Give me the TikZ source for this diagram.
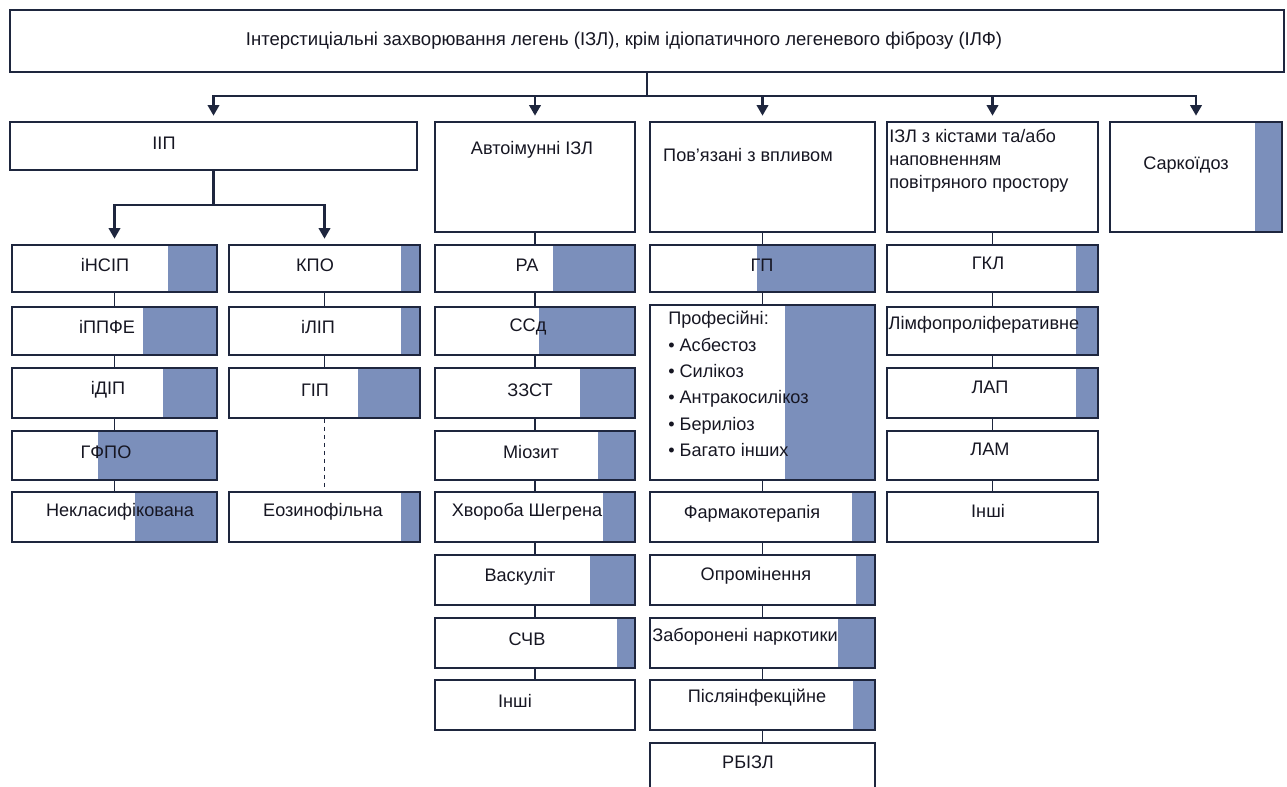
\documentclass[tikz,border=0pt]{standalone}
\usepackage{fontspec}
\setmainfont{Liberation Sans}
\usetikzlibrary{arrows.meta,fit}
\definecolor{barblue}{RGB}{123,143,187}
\definecolor{lineblue}{RGB}{30,38,62}
\definecolor{txt}{RGB}{22,22,34}
\tikzset{
  frame/.style={draw=lineblue,line width=1.4pt,inner sep=0pt},
  lbl/.style={text=txt,font=\fontsize{13.6}{16}\selectfont,inner sep=0pt},
  conn/.style={draw=lineblue,line width=2.2pt},
  arr/.style={conn,-{Triangle[width=8.5pt,length=8pt]},shorten >=4pt},
  thin/.style={draw=lineblue,line width=1pt},
}
\newcommand\Bx[9]{%
  \fill[white] (#2,#3) rectangle (#4,#5);
  \fill[barblue] (#6,#3) rectangle (#4,#5);
  \node[frame,fit={(#2,#3)(#4,#5)}] (#1) {};
  \node[lbl] (#1-t) at (#7,#8) {#9};
}
\begin{document}
\begin{tikzpicture}[x=0.75pt,y=-0.75pt]
\useasboundingbox (0,0) rectangle (1287,787);
\clip (0,0) rectangle (1287,787);
\fill[white] (0,0) rectangle (1287,787);
% top
\Bx{top}{10}{10}{1284}{72}{1284}{624}{41}{\fontsize{13.9}{16}\selectfont Інтерстиціальні захворювання легень (ІЗЛ), крім ідіопатичного легеневого фіброзу (ІЛФ)}
% row 1
\Bx{iip}{10}{122}{417}{170}{417}{164}{143}{ІІП}
\Bx{auto}{435}{122}{635}{232}{635}{532}{150}{Автоімунні ІЗЛ}
\Bx{pov}{650}{122}{875}{232}{875}{748}{155}{Пов’язані з впливом}
\fill[white] (887,122) rectangle (1098,232);
\node[frame,fit={(887,122)(1098,232)}] (kist) {};
\node[lbl,anchor=north west,align=left,font=\fontsize{13.6}{17.3}\selectfont] (kist-t) at (889,129) {ІЗЛ з кістами та/або\\наповненням\\повітряного простору};
\Bx{sark}{1110}{122}{1282}{232}{1255}{1186}{165}{Саркоїдоз}
% column 1
\Bx{insip}{12}{245}{217}{292}{168}{105}{265}{іНСІП}
\Bx{ippfe}{12}{307}{217}{355}{143}{107}{327}{іППФЕ}
\Bx{idip}{12}{368}{217}{418}{163}{108}{390}{іДІП}
\Bx{gfpo}{12}{431}{217}{480}{98}{106}{452}{ГФПО}
\Bx{nekl}{12}{492}{217}{542}{135}{120}{512}{Некласифікована}
% column 2
\Bx{kpo}{229}{245}{420}{292}{401}{315}{265}{КПО}
\Bx{ilip}{229}{307}{420}{355}{401}{318}{327}{іЛІП}
\Bx{gip}{229}{368}{420}{418}{358}{315}{390}{ГІП}
\Bx{eoz}{229}{492}{420}{542}{401}{323}{512}{Еозинофільна}
% column 3
\Bx{ra}{435}{245}{635}{292}{553}{527}{265}{РА}
\Bx{ssd}{435}{307}{635}{355}{539}{528}{327}{ССд}
\Bx{zzst}{435}{368}{635}{418}{580}{530}{390}{ЗЗСТ}
\Bx{mioz}{435}{431}{635}{480}{598}{531}{452}{Міозит}
\Bx{sheg}{435}{492}{635}{542}{603}{527}{512}{Хвороба Шегрена}
\Bx{vask}{435}{555}{635}{605}{590}{520}{577}{Васкуліт}
\Bx{schv}{435}{618}{635}{668}{617}{527}{639}{СЧВ}
\Bx{insh3}{435}{680}{635}{730}{635}{515}{701}{Інші}
% column 4
\Bx{gp}{650}{245}{875}{292}{757}{762}{265}{ГП}
\fill[white] (650,305) rectangle (875,480);
\fill[barblue] (785,305) rectangle (875,480);
\node[frame,fit={(650,305)(875,480)}] (prof) {};
\node[lbl,anchor=north west,align=left,font=\fontsize{13.6}{19.8}\selectfont] (prof-t) at (668,311) {Професійні:\\• Асбестоз\\• Силікоз\\• Антракосилікоз\\• Бериліоз\\• Багато інших};
\Bx{farm}{650}{492}{875}{542}{852}{752}{514}{Фармакотерапія}
\Bx{oprom}{650}{555}{875}{605}{856}{756}{576}{Опромінення}
\Bx{zab}{650}{618}{875}{668}{838}{745}{637}{Заборонені наркотики}
\Bx{pisl}{650}{680}{875}{730}{853}{757}{698}{Післяінфекційне}
\Bx{rbizl}{650}{743}{875}{800}{875}{748}{762}{РБІЗЛ}
% column 5
\Bx{gkl}{887}{245}{1098}{292}{1076}{988}{263}{ГКЛ}
\Bx{limf}{887}{307}{1098}{355}{1076}{984}{325}{Лімфопроліферативне}
\Bx{lap}{887}{368}{1098}{418}{1076}{990}{387}{ЛАП}
\Bx{lam}{887}{431}{1098}{480}{1098}{990}{449}{ЛАМ}
\Bx{insh5}{887}{492}{1098}{542}{1098}{988}{511}{Інші}
% main connectors
\coordinate (hub) at (647,96);
\draw[conn] (top.south) -- (hub);
\foreach \t in {iip,auto,pov,kist,sark} \draw[arr] (hub) -| (\t.north);
\coordinate (split) at (213.5,205);
\draw[conn] (iip.south) -- (split);
\draw[arr] (split) -| (insip.north);
\draw[arr] (split) -| (kpo.north);
% column connectors
\draw[thin] (insip) -- (ippfe) (ippfe) -- (idip) (idip) -- (gfpo) (gfpo) -- (nekl);
\draw[thin] (kpo) -- (ilip) (ilip) -- (gip);
\draw[thin,dashed] (gip.south) -- (eoz.north);
\draw[thin] (auto) -- (ra) (ra) -- (ssd) (ssd) -- (zzst) (zzst) -- (mioz) (mioz) -- (sheg) (sheg) -- (vask) (vask) -- (schv) (schv) -- (insh3);
\draw[thin] (pov) -- (gp) (gp) -- (prof) (prof) -- (farm) (farm) -- (oprom) (oprom) -- (zab) (zab) -- (pisl) (pisl) -- (rbizl);
\draw[thin] (kist) -- (gkl) (gkl) -- (limf) (limf) -- (lap) (lap) -- (lam) (lam) -- (insh5);
\end{tikzpicture}
\end{document}
